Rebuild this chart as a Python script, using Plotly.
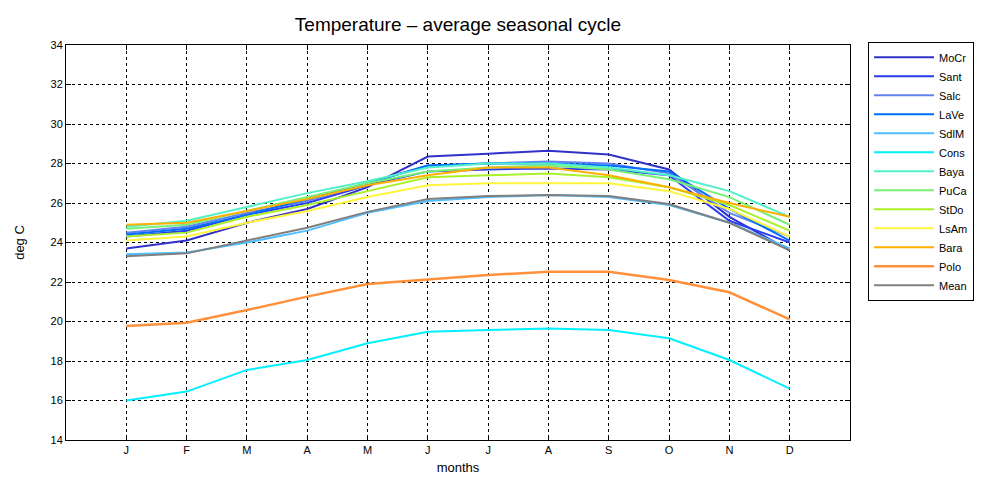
import plotly.graph_objects as go

months = [1, 2, 3, 4, 5, 6, 7, 8, 9, 10, 11, 12]
month_labels = ["J", "F", "M", "A", "M", "J", "J", "A", "S", "O", "N", "D"]

MoCr = [23.7, 24.1, 25.0, 25.7, 26.8, 28.35, 28.5, 28.65, 28.45, 27.7, 25.3, 23.6]
Sant = [24.3, 24.6, 25.4, 26.0, 26.9, 27.6, 27.7, 27.75, 27.7, 27.4, 25.1, 24.0]
Salc = [24.5, 24.8, 25.5, 26.1, 27.0, 27.9, 28.0, 28.1, 28.0, 27.5, 25.5, 24.3]
LaVe = [24.4, 24.7, 25.4, 26.2, 27.0, 27.9, 28.0, 28.0, 27.9, 27.6, 25.7, 24.1]
SdlM = [23.4, 23.5, 24.0, 24.6, 25.5, 26.1, 26.3, 26.4, 26.3, 25.9, 25.0, 23.7]
Cons = [16.0, 16.45, 17.55, 18.05, 18.9, 19.48, 19.57, 19.65, 19.57, 19.15, 18.05, 16.6]
Baya = [24.8, 25.1, 25.8, 26.5, 27.1, 27.8, 28.0, 28.0, 27.8, 27.4, 26.6, 25.3]
PuCa = [24.7, 24.9, 25.6, 26.3, 27.0, 27.6, 27.8, 27.9, 27.7, 27.2, 26.3, 24.9]
StDo = [24.3, 24.5, 25.3, 25.9, 26.6, 27.3, 27.4, 27.5, 27.3, 26.8, 25.9, 24.6]
LsAm = [24.1, 24.3, 25.0, 25.6, 26.3, 26.9, 27.0, 27.0, 27.0, 26.6, 25.7, 24.3]
Bara = [24.9, 25.0, 25.6, 26.2, 26.9, 27.4, 27.8, 27.8, 27.4, 26.8, 26.0, 25.3]
Polo = [19.77, 19.94, 20.58, 21.26, 21.9, 22.13, 22.35, 22.52, 22.52, 22.1, 21.48, 20.11]
Mean = [23.3, 23.45, 24.1, 24.75, 25.55, 26.2, 26.35, 26.4, 26.35, 25.95, 25.0, 23.6]

series_names = ["MoCr", "Sant", "Salc", "LaVe", "SdlM", "Cons", "Baya", "PuCa",
                "StDo", "LsAm", "Bara", "Polo", "Mean"]
series_values = [MoCr, Sant, Salc, LaVe, SdlM, Cons, Baya, PuCa, StDo, LsAm, Bara, Polo, Mean]
series_colors = ["rgb(50,50,200)", "rgb(40,60,240)", "rgb(100,130,240)", "rgb(0,110,255)",
                 "rgb(80,190,255)", "rgb(0,240,255)", "rgb(80,240,200)", "rgb(120,240,120)",
                 "rgb(170,240,40)", "rgb(255,245,60)", "rgb(255,175,0)", "rgb(255,145,60)",
                 "rgb(128,128,128)"]
series_widths = [2, 2, 2, 2, 2, 2, 2, 2, 2, 2, 2, 2.5, 2]

fig = go.Figure()
for name, vals, col, w in zip(series_names, series_values, series_colors, series_widths):
    fig.add_trace(go.Scatter(x=months, y=vals, mode="lines", name=name,
                             line=dict(color=col, width=w)))

axis_common = dict(showline=True, linecolor="black", linewidth=1, mirror="ticks",
                   ticks="inside", ticklen=5, tickcolor="black",
                   showgrid=True, gridcolor="black", griddash="dot", gridwidth=1,
                   zeroline=False, automargin=False,
                   tickfont=dict(size=11, color="black"))

# the page body adds an 8px offset, so the figure is sized to fit the window
fig.update_layout(
    width=981, height=469,
    margin=dict(l=58, r=139, t=37, b=37, autoexpand=False),
    paper_bgcolor="white", plot_bgcolor="white",
    font=dict(family="Liberation Sans, Arial, sans-serif", color="black"),
    title=dict(text="Temperature \u2013 average seasonal cycle", x=0.5, xref="paper",
               xanchor="center", y=0.965, yanchor="middle", font=dict(size=19, color="black")),
    xaxis=dict(range=[0, 13], tickmode="array", tickvals=months, ticktext=month_labels,
               title=dict(text="months", font=dict(size=13), standoff=7), **axis_common),
    yaxis=dict(range=[14, 34], dtick=2,
               title=dict(text="deg C", font=dict(size=13), standoff=22), **axis_common),
    legend=dict(x=1.023, y=1.008, xanchor="left", yanchor="top",
                bordercolor="black", borderwidth=1, bgcolor="white",
                font=dict(size=11), itemwidth=60, tracegroupgap=0, maxheight=600),
)

fig.write_html("out.html")
